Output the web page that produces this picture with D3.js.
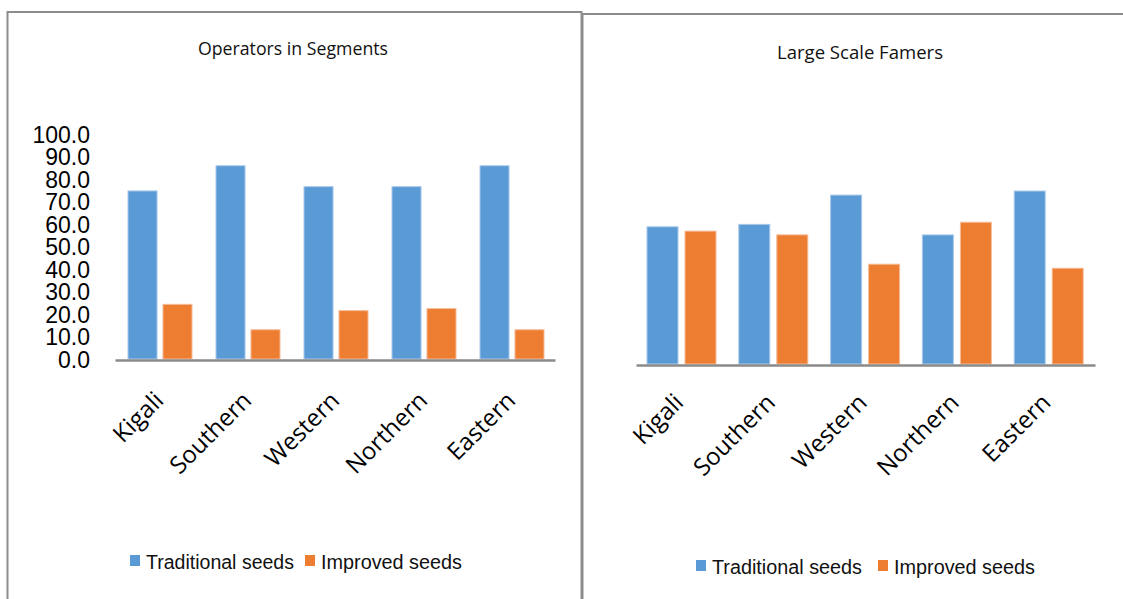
<!DOCTYPE html>
<html>

<head>
    <title>Seeds</title>
    <script src="https://cdn.jsdelivr.net/npm/d3@7"></script>
    <style>
        body { margin: 0; background: #fff; }
    </style>
</head>

<body>
    <svg width="1123" height="599" id="mainsvg"></svg>
    <script>
        const categories = ['Kigali', 'Southern', 'Western', 'Northern', 'Eastern'];
        const seriesNames = ['Traditional seeds', 'Improved seeds'];
        const segTraditional = [74.7, 85.9, 76.6, 76.6, 85.9];
        const segImproved = [24.3, 13.0, 21.5, 22.4, 13.0];
        const largeTraditional = [51.0, 51.9, 62.8, 48.0, 64.3];
        const largeImproved = [49.4, 48.0, 37.1, 52.7, 35.6];
        const yTicks = [0, 10, 20, 30, 40, 50, 60, 70, 80, 90, 100];

        const colors = ['#5b9bd5', '#ed7d31'];
        const strokes = ['#a9c8ea', '#f6bc98'];

        const svg = d3.select('#mainsvg');

        // squeeze text to a measured width (the original font is narrow)
        const fit = function (sel, w) {
            sel.attr('textLength', w).attr('lengthAdjust', 'spacingAndGlyphs');
        };

        const drawPanel = function (p) {
            const g = svg.append('g');

            g.append('rect')
                .attr('x', p.frame[0]).attr('y', p.frame[1])
                .attr('width', p.frame[2]).attr('height', p.frame[3])
                .attr('fill', '#fff')
                .attr('stroke', '#8c8c8c').attr('stroke-width', 2);

            g.append('text')
                .attr('x', p.titleX).attr('y', p.titleY)
                .attr('text-anchor', 'middle')
                .attr('font-family', 'Open Sans').attr('font-size', 19)
                .attr('fill', '#111')
                .text(p.title)
                .call(fit, p.titleW);

            const xScale = d3.scaleBand()
                .domain(categories)
                .range([p.left, p.right]);

            const xInner = d3.scaleBand()
                .domain([0, 1])
                .range(p.inner)
                .paddingInner(p.gap);

            const yScale = d3.scaleLinear()
                .domain([0, 100])
                .range([p.base, p.top]);

            const rows = categories.map((c, i) => ({ c: c, v: [p.a[i], p.b[i]] }));

            const groups = g.selectAll('.grp').data(rows).enter().append('g')
                .attr('transform', d => `translate(${xScale(d.c)}, 0)`);

            groups.selectAll('rect')
                .data(d => d.v.map((v, k) => ({ v: v, k: k })))
                .enter().append('rect')
                .attr('x', d => xInner(d.k))
                .attr('width', xInner.bandwidth())
                .attr('y', d => yScale(d.v))
                .attr('height', d => p.base - yScale(d.v))
                .attr('fill', d => colors[d.k])
                .attr('stroke', d => strokes[d.k])
                .attr('stroke-width', 1);

            if (p.showY) {
                const yAxis = d3.axisLeft(yScale)
                    .tickValues(yTicks)
                    .tickFormat(d3.format('.1f'))
                    .tickSize(0)
                    .tickPadding(p.left - 90);
                const ya = g.append('g')
                    .attr('transform', `translate(${p.left}, 0)`)
                    .call(yAxis);
                ya.select('.domain').remove();
                ya.selectAll('text')
                    .attr('font-family', 'Liberation Sans')
                    .attr('font-size', 23)
                    .attr('fill', '#000')
                    .attr('dy', '0.36em')
                    .each(function () {
                        const t = d3.select(this);
                        t.call(fit, this.getComputedTextLength());
                    });
            }

            // baseline
            const xAxis = d3.axisBottom(xScale).tickSize(0).tickFormat('');
            const xa = g.append('g')
                .attr('transform', `translate(0, ${p.base + 1})`)
                .call(xAxis);
            xa.select('.domain')
                .attr('stroke', '#8a8a8a').attr('stroke-width', 2.5);

            g.selectAll('.cat').data(categories).enter().append('text')
                .attr('text-anchor', 'end')
                .attr('font-family', 'Open Sans').attr('font-size', 24)
                .attr('fill', '#000')
                .attr('transform', d => `translate(${xScale(d) + xScale.bandwidth() / 2 + p.labDx}, ${p.base + p.labDy}) rotate(-45)`)
                .text(d => d);

            // legend
            const lg = g.selectAll('.leg').data(seriesNames).enter().append('g')
                .attr('transform', (d, i) => `translate(${p.legX[i]}, ${p.legY})`);
            lg.append('rect')
                .attr('x', 0).attr('y', -14)
                .attr('width', 10).attr('height', 11)
                .attr('fill', (d, i) => colors[i]);
            lg.append('text')
                .attr('x', 16).attr('y', 0)
                .attr('font-family', 'Liberation Sans').attr('font-size', 20)
                .attr('fill', '#111')
                .text(d => d)
                .each(function (d, i) { d3.select(this).call(fit, p.legW[i]); });
        };

        drawPanel({
            frame: [7.5, 12, 574, 620],
            title: 'Operators in Segments', titleX: 293, titleY: 55, titleW: 190,
            left: 115, right: 555, base: 359, top: 134,
            inner: [13, 77], gap: 0.17,
            a: segTraditional, b: segImproved,
            showY: true,
            labDx: 6, labDy: 43,
            legX: [130, 305], legY: 569, legW: [148, 141]
        });

        drawPanel({
            frame: [582.5, 14, 560, 620],
            title: 'Large Scale Famers', titleX: 860, titleY: 59, titleW: 166,
            left: 636, right: 1095, base: 364, top: 95,
            inner: [11, 80], gap: 0.184,
            a: largeTraditional, b: largeImproved,
            showY: false,
            labDx: 3, labDy: 40,
            legX: [696, 878], legY: 574, legW: [150, 141]
        });
    </script>
</body>

</html>
